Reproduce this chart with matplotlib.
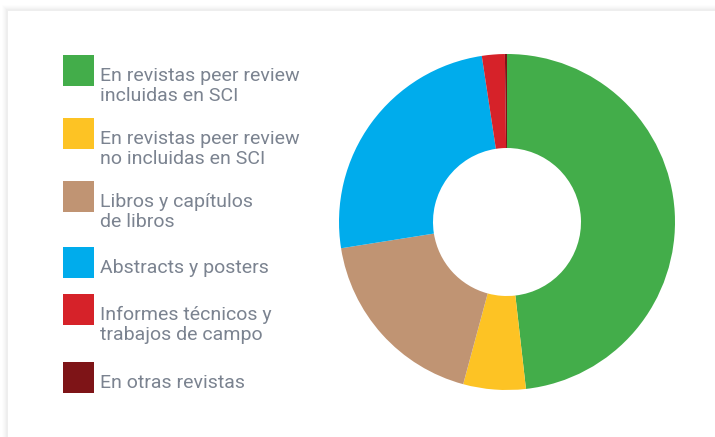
import matplotlib
matplotlib.use("Agg")
import matplotlib.pyplot as plt
from matplotlib.patches import Rectangle

# data (share of publications, %)
labels = [
    "En revistas peer review\nincluidas en SCI",
    "En revistas peer review\nno incluidas en SCI",
    "Libros y capítulos\nde libros",
    "Abstracts y posters",
    "Informes técnicos y\ntrabajos de campo",
    "En otras revistas",
]
values = [48.2, 6.0, 18.3, 25.1, 2.2, 0.2]
colors = ["#43ad4a", "#fdc324", "#c09473", "#00acec", "#d62229", "#7e1417"]

# legend square tops in pixels (top-left origin)
legend_tops = [55, 118, 181, 247, 294, 362]

W, H = 715, 437
fig = plt.figure(figsize=(W / 100, H / 100), dpi=100)
fig.patch.set_facecolor("white")

# background axes in pixel coordinates
bg = fig.add_axes([0, 0, 1, 1])
bg.set_xlim(0, W)
bg.set_ylim(H, 0)
bg.axis("off")

# soft card shadow
for i, a in enumerate([0.008, 0.010, 0.013, 0.016, 0.020]):
    off = 6 - i
    bg.add_patch(Rectangle((8 - off, 11 - off), W, H, facecolor="black",
                           alpha=a, edgecolor="none", zorder=0))
bg.add_patch(Rectangle((8, 11), W, H, facecolor="white", edgecolor="none", zorder=1))

# legend, one text per line so every first line sits at the same spot
for lab, col, top in zip(labels, colors, legend_tops):
    bg.add_patch(Rectangle((63, top), 31, 31, facecolor=col, edgecolor="none", zorder=2))
    for k, line in enumerate(lab.split("\n")):
        bg.text(100, top + 26 + k * 20, line, fontsize=14, family="Roboto",
                color="#7b8390", va="baseline", ha="left", zorder=3)

# donut
cx, cy, r = 507, 222, 168
ax = fig.add_axes([(cx - r) / W, (H - cy - r) / H, 2 * r / W, 2 * r / H])
ax.pie(values, colors=colors, startangle=90, counterclock=False, radius=1,
       wedgeprops=dict(width=(168 - 74) / 168, edgecolor="none"))
ax.set_xlim(-1, 1)
ax.set_ylim(-1, 1)
ax.axis("off")

fig.savefig("out.png", dpi=100)
